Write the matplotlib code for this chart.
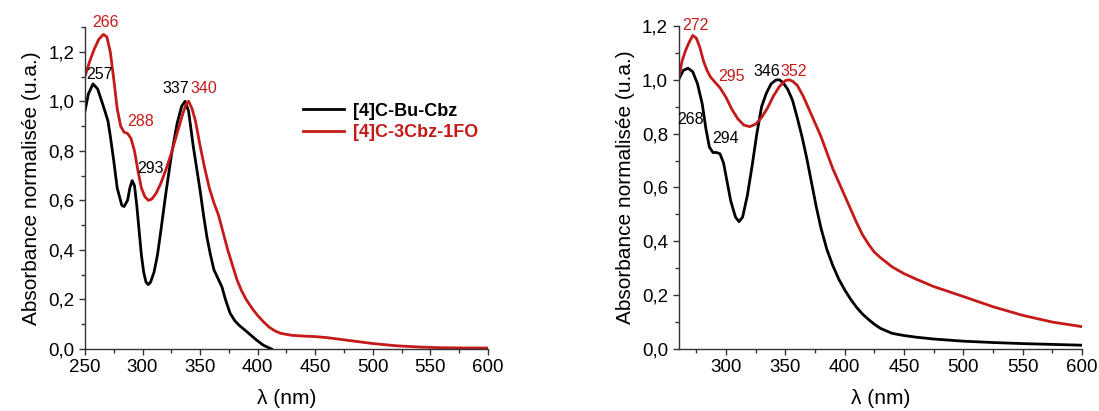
import matplotlib
matplotlib.use("Agg")
import matplotlib.pyplot as plt
from matplotlib.ticker import MultipleLocator, FuncFormatter

plt.rcParams['font.family'] = ['Liberation Sans', 'DejaVu Sans']

BLACK = '#000000'
RED = '#c41a1a'
AXIS = '#333333'

# Left panel: [4]C-Bu-Cbz vs [4]C-3Cbz-1FO
left_bu_x = [250, 253, 257, 261, 266, 270, 272, 275, 278, 282, 284, 287, 289, 291, 293, 295,
             297, 299, 301, 303, 305, 307, 310, 313, 316, 320, 325, 330, 334, 337, 340, 344,
             347, 350, 353, 356, 359, 362, 365, 369, 372, 376, 380, 384, 388, 393, 399, 405,
             412]
left_bu_y = [0.96, 1.03, 1.07, 1.05, 0.98, 0.92, 0.86, 0.76, 0.65, 0.58, 0.575, 0.60, 0.65,
             0.68, 0.66, 0.58, 0.48, 0.38, 0.31, 0.27, 0.26, 0.27, 0.31, 0.38, 0.48, 0.62,
             0.78, 0.91, 0.98, 1.0, 0.96, 0.82, 0.73, 0.64, 0.54, 0.45, 0.38, 0.32, 0.29, 0.25,
             0.20, 0.145, 0.115, 0.095, 0.08, 0.06, 0.036, 0.015, 0.0]

left_fo_x = [250, 254, 258, 262, 266, 269, 272, 275, 278, 281, 284, 287, 290, 293, 296, 299,
             302, 305, 308, 312, 316, 320, 325, 330, 335, 338, 340, 343, 346, 350, 354, 358,
             362, 366, 370, 374, 378, 382, 386, 390, 395, 400, 405, 410, 415, 420, 430, 440,
             450, 460, 470, 480, 490, 500, 520, 540, 560, 580, 600]
left_fo_y = [1.10, 1.16, 1.21, 1.25, 1.27, 1.26, 1.20, 1.09, 0.97, 0.90, 0.875, 0.87, 0.85,
             0.80, 0.72, 0.65, 0.615, 0.60, 0.605, 0.63, 0.67, 0.72, 0.79, 0.87, 0.95, 0.99,
             1.0, 0.97, 0.92, 0.82, 0.73, 0.65, 0.59, 0.54, 0.47, 0.40, 0.34, 0.28, 0.235,
             0.20, 0.165, 0.135, 0.11, 0.088, 0.073, 0.063, 0.055, 0.052, 0.05, 0.046, 0.04,
             0.034, 0.028, 0.022, 0.013, 0.008, 0.005, 0.004, 0.004]

# Right panel
right_bu_x = [260, 264, 268, 272, 276, 280, 283, 286, 289, 292, 295, 298, 301, 304, 308, 311,
              314, 318, 322, 326, 330, 334, 338, 342, 345, 348, 352, 356, 360, 364, 368, 372,
              376, 380, 385, 390, 395, 400, 405, 410, 415, 420, 425, 430, 440, 450, 460, 475,
              500, 525, 550, 575, 600]
right_bu_y = [1.0, 1.035, 1.043, 1.03, 0.985, 0.91, 0.82, 0.75, 0.73, 0.73, 0.725, 0.69, 0.62,
              0.55, 0.49, 0.473, 0.49, 0.57, 0.68, 0.80, 0.90, 0.95, 0.985, 0.999, 1.0, 0.99,
              0.965, 0.925, 0.86, 0.79, 0.71, 0.62, 0.53, 0.45, 0.37, 0.31, 0.26, 0.22, 0.185,
              0.155, 0.13, 0.11, 0.092, 0.077, 0.058, 0.05, 0.044, 0.037, 0.029, 0.024, 0.02,
              0.017, 0.014]

right_fo_x = [260, 263, 266, 269, 272, 275, 278, 281, 284, 287, 290, 295, 300, 305, 310, 315,
              320, 325, 330, 335, 340, 345, 350, 353, 356, 360, 365, 370, 375, 380, 385, 390,
              395, 400, 405, 410, 415, 420, 425, 430, 440, 450, 460, 475, 500, 525, 550, 575, 600]
right_fo_y = [1.0, 1.07, 1.11, 1.14, 1.165, 1.155, 1.12, 1.07, 1.035, 1.01, 0.995, 0.97, 0.935,
              0.89, 0.855, 0.832, 0.826, 0.835, 0.86, 0.895, 0.94, 0.975, 0.997, 1.0, 0.995,
              0.98, 0.94, 0.89, 0.84, 0.79, 0.73, 0.67, 0.62, 0.57, 0.52, 0.47, 0.425, 0.39,
              0.36, 0.34, 0.305, 0.28, 0.26, 0.232, 0.195, 0.157, 0.125, 0.10, 0.083]

# peak labels: (text, x, y, colour)
left_labels = [('257', 263, 1.109, BLACK), ('266', 268, 1.316, RED), ('288', 298, 0.917, RED),
               ('293', 307, 0.729, BLACK), ('337', 329, 1.051, BLACK), ('340', 353, 1.051, RED)]
right_labels = [('272', 274, 1.20, RED), ('295', 305, 1.012, RED), ('346', 334, 1.031, BLACK),
                ('352', 357, 1.031, RED), ('268', 270, 0.851, BLACK), ('294', 300, 0.783, BLACK)]

fig = plt.figure(figsize=(10.99, 4.11), dpi=100)
ax1 = fig.add_axes([0.0773, 0.1509, 0.3667, 0.7835])
ax2 = fig.add_axes([0.6174, 0.1509, 0.3671, 0.7859])

comma = FuncFormatter(lambda v, pos: f"{v:.1f}".replace('.', ','))

def style(ax, xmin, ymax):
    ax.set_xlim(xmin, 600)
    ax.set_ylim(0, ymax)
    for s in ['top', 'right']:
        ax.spines[s].set_visible(False)
    for s in ['left', 'bottom']:
        ax.spines[s].set_linewidth(1.0)
        ax.spines[s].set_color(AXIS)
    ax.xaxis.set_major_locator(MultipleLocator(50))
    ax.xaxis.set_minor_locator(MultipleLocator(25))
    ax.yaxis.set_major_locator(MultipleLocator(0.2))
    ax.yaxis.set_minor_locator(MultipleLocator(0.1))
    ax.yaxis.set_major_formatter(comma)
    ax.tick_params(which='major', direction='out', length=4.5, width=1, color=AXIS,
                   labelsize=13.5, pad=3)
    ax.tick_params(which='minor', direction='out', length=3, width=1, color=AXIS)
    ax.set_xlabel('λ (nm)', fontsize=15, labelpad=9)
    ax.set_ylabel('Absorbance normalisée (u.a.)', fontsize=15, labelpad=5)

ax1.plot(left_bu_x, left_bu_y, color=BLACK, lw=2, label='[4]C-Bu-Cbz')
ax1.plot(left_fo_x, left_fo_y, color=RED, lw=2, label='[4]C-3Cbz-1FO')
style(ax1, 250, 1.3)
for t, x, y, c in left_labels:
    ax1.text(x, y, t, color=c, fontsize=11.5, ha='center', va='center')
leg = ax1.legend(loc='upper left', bbox_to_anchor=(0.5, 0.815), frameon=False,
                 prop={'weight': 'bold', 'size': 13}, handlelength=2.3, handletextpad=0.5,
                 labelspacing=0.25)
for txt, c in zip(leg.get_texts(), [BLACK, RED]):
    txt.set_color(c)

ax2.plot(right_bu_x, right_bu_y, color=BLACK, lw=2)
ax2.plot(right_fo_x, right_fo_y, color=RED, lw=2)
style(ax2, 260, 1.2)
for t, x, y, c in right_labels:
    ax2.text(x, y, t, color=c, fontsize=11.5, ha='center', va='center')

fig.savefig('out.png', dpi=100)
